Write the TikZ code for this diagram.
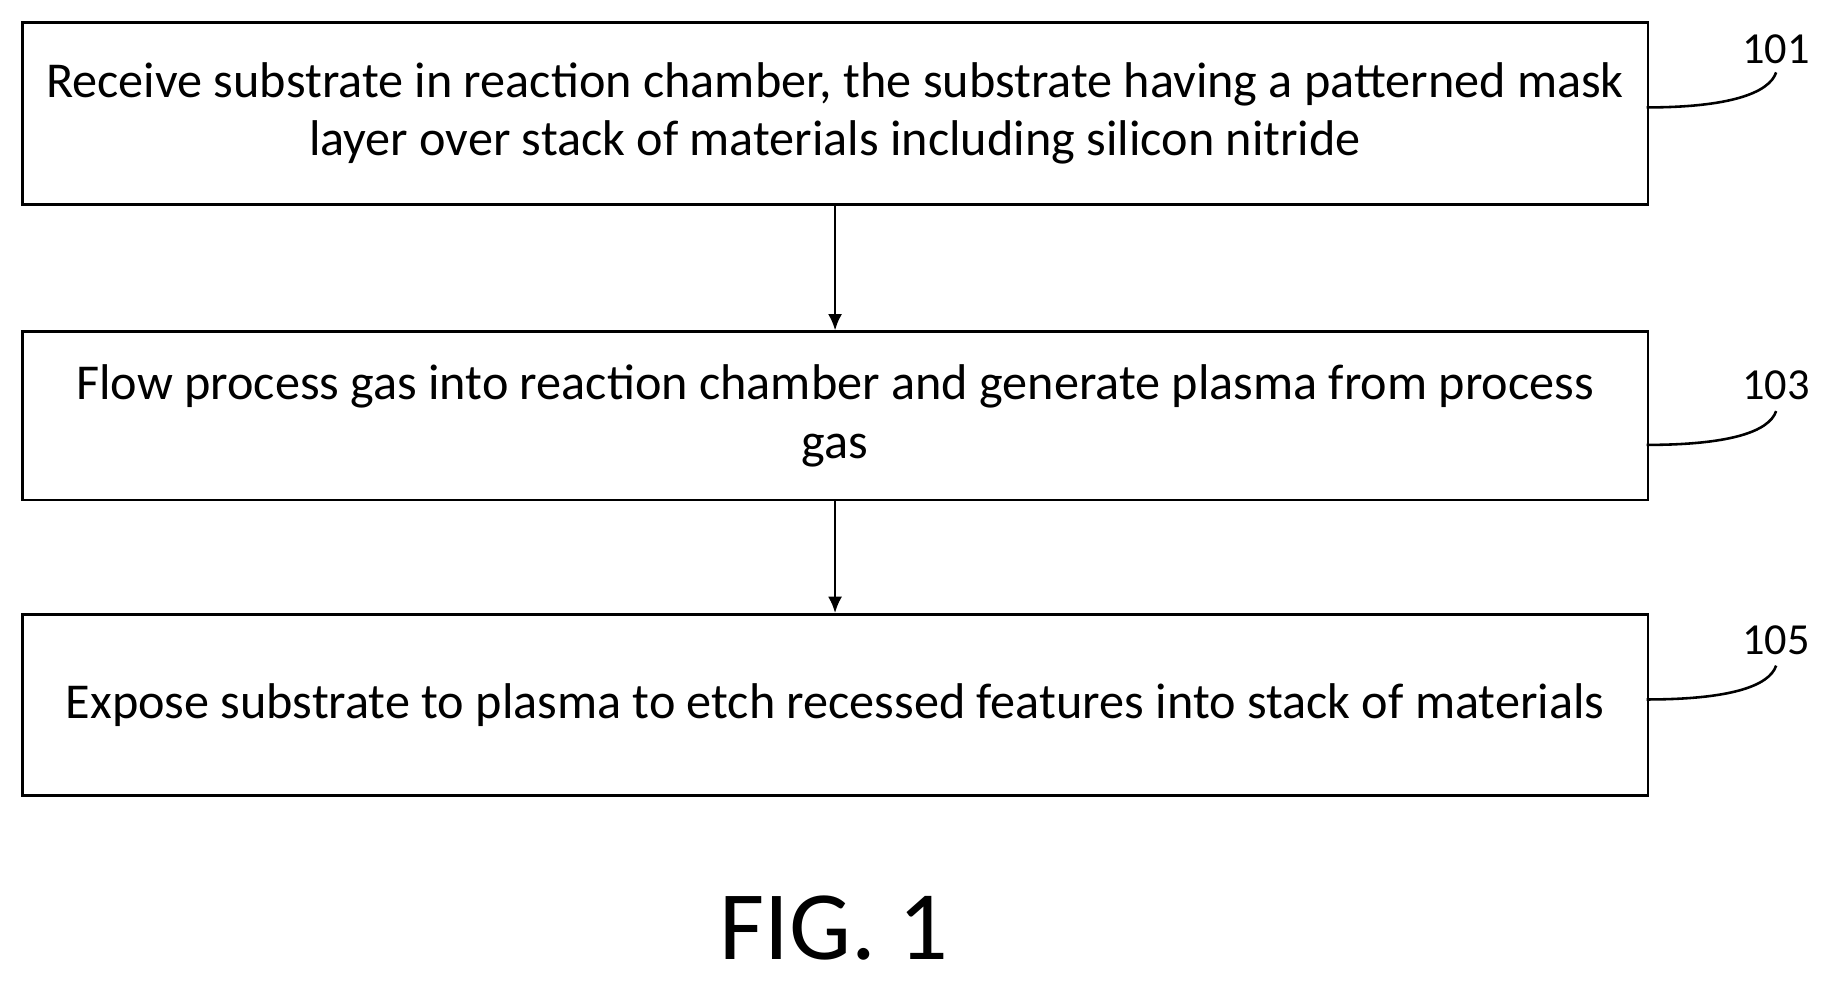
\documentclass[tikz,border=0pt]{standalone}
\usepackage{fontspec}
\setmainfont{Carlito}
\usetikzlibrary{arrows.meta}
\begin{document}
\begin{tikzpicture}[x=1pt,y=-1pt,
  stepbox/.style={draw,line width=2.2pt,minimum width=1392pt,anchor=north west,align=center,font=\fontsize{43}{50}\selectfont,inner sep=0pt},
  arr/.style={-{Latex[length=14pt,width=12pt]},line width=2.2pt},
  lbl/.style={font=\fontsize{38}{40}\selectfont},
  lead/.style={line width=2.2pt}]
\useasboundingbox (0,0) rectangle (1568,842);
\node[stepbox,minimum height=156pt] (b1) at (18,18) {Receive substrate in reaction chamber, the substrate having a patterned mask\\layer over stack of materials including silicon nitride};
\node[stepbox,minimum height=144pt] (b2) at (18,283) {Flow process gas into reaction chamber and generate plasma from process\\gas};
\node[stepbox,minimum height=155pt] (b3) at (18,525) {Expose substrate to plasma to etch recessed features into stack of materials};
\draw[arr] (b1.south) -- (b2.north);
\draw[arr] (b2.south) -- (b3.north);
\node[lbl] (l1) at (1521,42) {101};
\node[lbl] (l2) at (1521,330) {103};
\node[lbl] (l3) at (1521,548) {105};
\coordinate (c1) at (1410,92);
\coordinate (c2) at (1410,381);
\coordinate (c3) at (1410,599);
\draw[lead] (c1) .. controls (1480,92) and (1515,80) .. (1521,62);
\draw[lead] (c2) .. controls (1480,381) and (1515,370) .. (1521,352);
\draw[lead] (c3) .. controls (1480,599) and (1515,588) .. (1521,570);
\node[font=\fontsize{84}{86}\selectfont,inner sep=0pt] (fig) at (714,795) {FIG. 1};
\end{tikzpicture}
\end{document}
